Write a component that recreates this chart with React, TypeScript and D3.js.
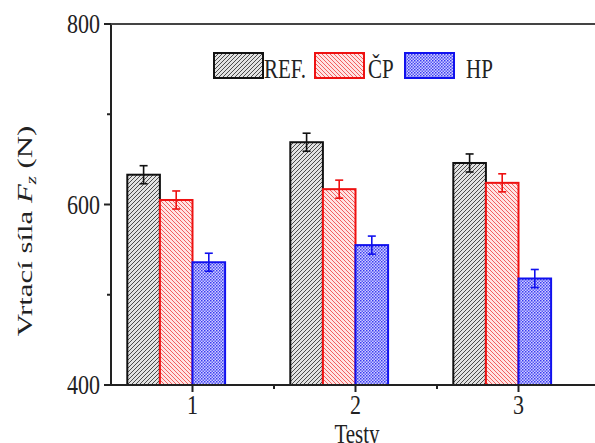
import React from "react";
import * as d3 from "d3";

const categories = [1, 2, 3];
const seriesNames = ["REF.", "ČP", "HP"];
const refValues = [633, 669, 646];
const cpValues = [605, 617, 624];
const hpValues = [536, 555, 518];
const refErr = [10, 10, 10];
const cpErr = [10, 10, 10];
const hpErr = [10, 10, 10];
const yMajorTicks = [400, 600, 800];
const yMinorTicks = [500, 700];
const xMinorTicks = [1.5, 2.5];

const W = 595;
const H = 443;
const SY_TICK = 1.25;
const SY_TITLE = 1.4;
const SY_LEG = 1.35;
const FONT = "'Liberation Serif', 'Times New Roman', serif";

export default function App() {
  const x = d3.scaleLinear().domain([0.5, 3.5]).range([111, 600]);
  const y = d3.scaleLinear().domain([400, 800]).range([385, 24]);
  const bw = 0.2;
  const colors = ["#111111", "#ee1111", "#1111ee"];
  const fills = ["url(#patRef)", "url(#patCp)", "url(#patHp)"];
  const values = [refValues, cpValues, hpValues];
  const errs = [refErr, cpErr, hpErr];
  const offsets = [-2, -1, 0];

  const bars: any[] = [];
  values.forEach((vals, s) => {
    vals.forEach((v, i) => {
      const c = categories[i];
      const x0 = x(c + offsets[s] * bw);
      const x1 = x(c + (offsets[s] + 1) * bw);
      const cx = (x0 + x1) / 2;
      bars.push(
        <g key={`b${s}-${i}`}>
          <rect x={x0} y={y(v)} width={x1 - x0} height={y(400) - y(v)} fill={fills[s]} stroke={colors[s]} strokeWidth={2} />
          <line x1={cx} x2={cx} y1={y(v + errs[s][i])} y2={y(v - errs[s][i])} stroke={colors[s]} strokeWidth={1.6} />
          <line x1={cx - 4} x2={cx + 4} y1={y(v + errs[s][i])} y2={y(v + errs[s][i])} stroke={colors[s]} strokeWidth={1.6} />
          <line x1={cx - 4} x2={cx + 4} y1={y(v - errs[s][i])} y2={y(v - errs[s][i])} stroke={colors[s]} strokeWidth={1.6} />
        </g>
      );
    });
  });

  const legendX = [214, 315, 405];
  const legendTextX = [264, 368, 466];

  return (
    <svg width={W} height={H} style={{ position: "absolute", left: 0, top: 0 }} fontFamily={FONT}>
      <defs>
        <pattern id="patRef" patternUnits="userSpaceOnUse" width={4} height={4}>
          <rect width={4} height={4} fill="#e2e2e2" />
          <path d="M-1,1 L1,-1 M0,4 L4,0 M3,5 L5,3" stroke="#3a3a3a" strokeWidth={0.9} />
        </pattern>
        <pattern id="patCp" patternUnits="userSpaceOnUse" width={4} height={4}>
          <rect width={4} height={4} fill="#ffe4e4" />
          <path d="M-1,3 L1,5 M0,0 L4,4 M3,-1 L5,1" stroke="#f26060" strokeWidth={1} />
        </pattern>
        <pattern id="patHp" patternUnits="userSpaceOnUse" width={3} height={3}>
          <rect width={3} height={3} fill="#cfcfff" />
          <rect x={0} y={0} width={1.5} height={1.5} fill="#3a3af0" />
          <rect x={1.5} y={1.5} width={1.5} height={1.5} fill="#5a5af5" />
        </pattern>
      </defs>

      {bars}

      {/* axes */}
      <line x1={111} x2={111} y1={23} y2={386} stroke="#222" strokeWidth={2} />
      <line x1={104} x2={W} y1={24} y2={24} stroke="#444" strokeWidth={2} />
      <line x1={104} x2={W} y1={385} y2={385} stroke="#222" strokeWidth={2} />

      {yMajorTicks.map((t) => (
        <g key={`ym${t}`}>
          <line x1={104} x2={111} y1={y(t)} y2={y(t)} stroke="#222" strokeWidth={2} />
          <g transform={`translate(100,${y(t)}) scale(1,${SY_TICK})`}>
            <text textAnchor="end" dy="0.34em" fontSize={22} fill="#222">{t}</text>
          </g>
        </g>
      ))}
      {yMinorTicks.map((t) => (
        <line key={`yn${t}`} x1={107} x2={111} y1={y(t)} y2={y(t)} stroke="#222" strokeWidth={2} />
      ))}
      {categories.map((c) => (
        <g key={`xm${c}`}>
          <line x1={x(c)} x2={x(c)} y1={385} y2={392} stroke="#222" strokeWidth={2} />
          <g transform={`translate(${x(c)},414) scale(1,${SY_TICK})`}>
            <text textAnchor="middle" fontSize={22} fill="#222">{c}</text>
          </g>
        </g>
      ))}
      {xMinorTicks.map((t) => (
        <line key={`xn${t}`} x1={x(t)} x2={x(t)} y1={385} y2={389} stroke="#222" strokeWidth={2} />
      ))}

      {/* axis titles */}
      <g transform={`translate(357,443) scale(1,${SY_LEG})`}>
        <text textAnchor="middle" fontSize={21} fill="#222">Testy</text>
      </g>
      <g transform={`translate(32,231) scale(1,${SY_TITLE}) rotate(-90)`}>
        <text textAnchor="middle" fontSize={22} fill="#222">
          Vrtací síla <tspan fontStyle="italic">F</tspan>
          <tspan fontStyle="italic" fontSize={15} dy={4}>z</tspan>
          <tspan dy={-4}> (N)</tspan>
        </text>
      </g>

      {/* legend */}
      {seriesNames.map((n, s) => (
        <g key={`lg${s}`}>
          <rect x={legendX[s]} y={53} width={49} height={25} fill={fills[s]} stroke={colors[s]} strokeWidth={2} />
          <g transform={`translate(${legendTextX[s]},78) scale(1,${SY_LEG})`}>
            <text fontSize={21} fill="#222">{n}</text>
          </g>
        </g>
      ))}
    </svg>
  );
}
